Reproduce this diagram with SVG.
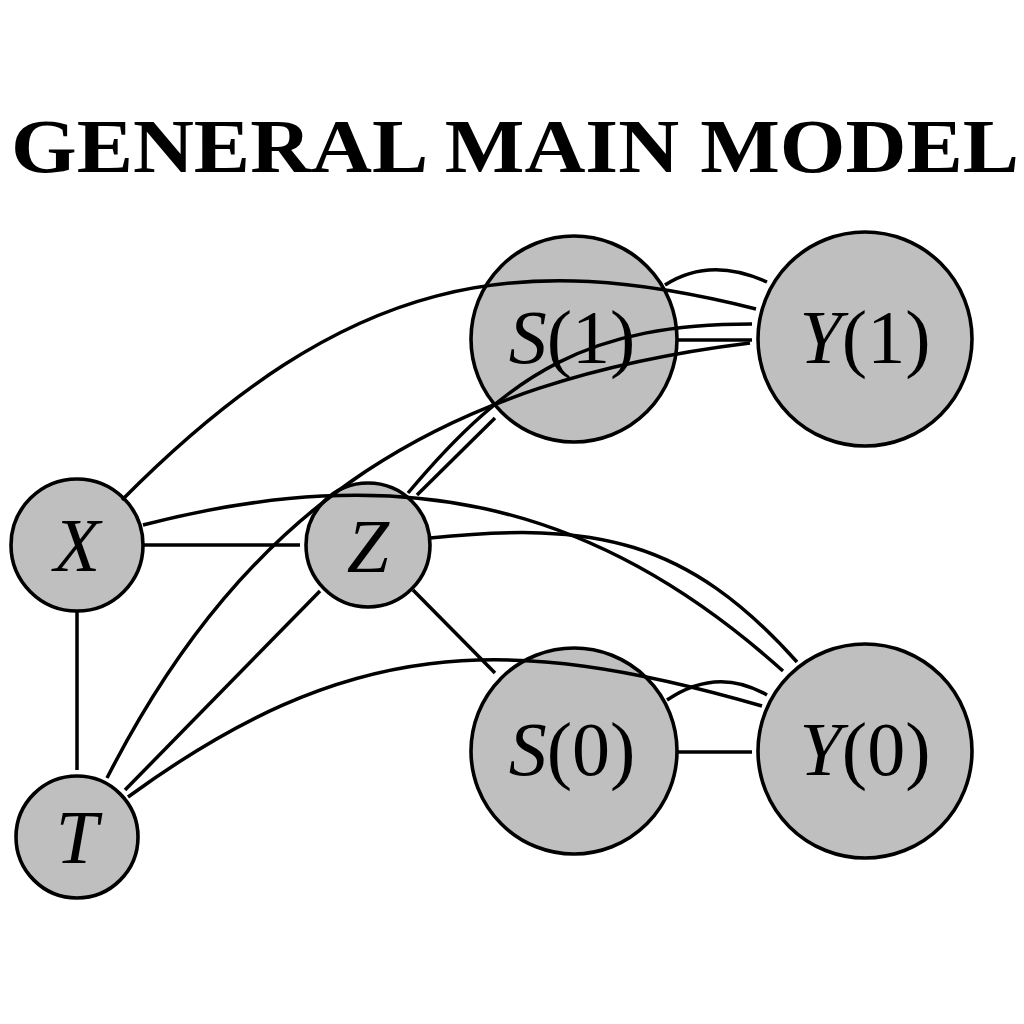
<svg xmlns="http://www.w3.org/2000/svg" width="1024" height="1024" viewBox="0 0 1024 1024">
<style>
.node{fill:#bfbfbf;stroke:#000;stroke-width:3.6}
.edge{fill:none;stroke:#000;stroke-width:3.5}
.lbl{font-family:"Liberation Serif","DejaVu Serif",serif;font-size:76px;text-anchor:middle;fill:#000}
.it{font-style:italic}
.title{font-family:"Liberation Serif","DejaVu Serif",serif;font-size:76px;font-weight:bold;text-anchor:middle;fill:#000}
</style>
<rect width="1024" height="1024" fill="#fff"/>
<text class="title" x="515" y="172" textLength="1008" lengthAdjust="spacingAndGlyphs">GENERAL MAIN MODEL</text>
<g id="nodes">
<g id="node-S1"><circle class="node" cx="574" cy="339" r="103"/><text class="lbl" x="572" y="363"><tspan class="it">S</tspan>(1)</text></g>
<g id="node-Y1"><circle class="node" cx="865" cy="339" r="107"/><text class="lbl" x="865" y="363"><tspan class="it">Y</tspan>(1)</text></g>
<g id="node-S0"><circle class="node" cx="574" cy="751" r="103"/><text class="lbl" x="572" y="775"><tspan class="it">S</tspan>(0)</text></g>
<g id="node-Y0"><circle class="node" cx="865" cy="751" r="107"/><text class="lbl" x="865" y="775"><tspan class="it">Y</tspan>(0)</text></g>
<g id="node-X"><circle class="node" cx="77" cy="545" r="66"/><text class="lbl it" x="77" y="571">X</text></g>
<g id="node-Z"><circle class="node" cx="368" cy="545" r="62"/><text class="lbl it" x="368" y="572">Z</text></g>
<g id="node-T"><circle class="node" cx="77" cy="837" r="61"/><text class="lbl it" x="77" y="863">T</text></g>
</g>
<g id="connectors">
<line class="edge" x1="77" y1="611" x2="77" y2="770"/>
<line class="edge" x1="143" y1="545" x2="300" y2="545"/>
<line class="edge" x1="125" y1="790" x2="320" y2="591"/>
<line class="edge" x1="413" y1="590" x2="495" y2="673"/>
<line class="edge" x1="417" y1="495" x2="495" y2="418"/>
<line class="edge" x1="678" y1="340" x2="752" y2="340"/>
<line class="edge" x1="678" y1="752" x2="752" y2="752"/>
<path class="edge" d="M122,500 C350,270 520,250 756,309"/>
<path class="edge" d="M143,525 C395,460 590,498 783,671"/>
<path class="edge" d="M430,538 C594,521 687,539 797,662"/>
<path class="edge" d="M408,493 C511,370 592,324 752,324"/>
<path class="edge" d="M107,778 C248,502 442,381 750,343"/>
<path class="edge" d="M128,797 C346,638 503,631 762,706"/>
<path class="edge" d="M665,285 Q710,256 767,282"/>
<path class="edge" d="M667,700 Q717,666 767,695"/>
</g>
</svg>
